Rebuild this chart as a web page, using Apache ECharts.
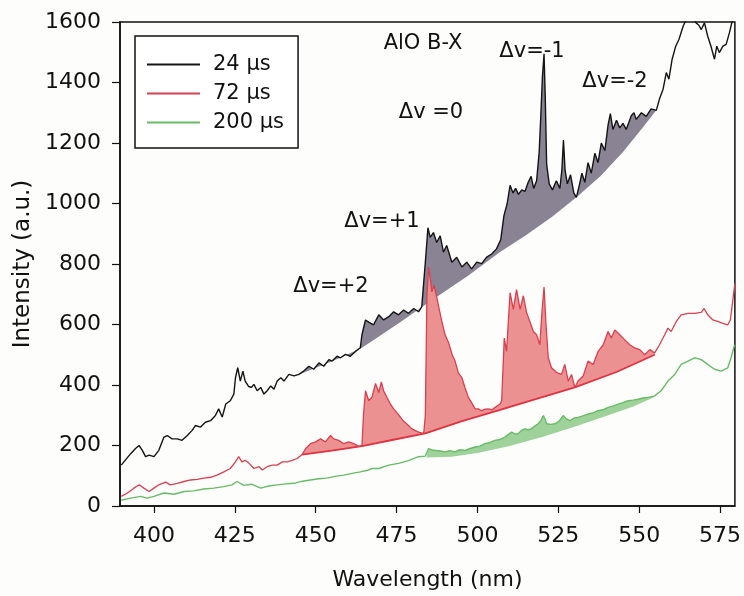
<!DOCTYPE html>
<html>
<head>
<meta charset="utf-8">
<script src="https://cdn.jsdelivr.net/npm/echarts@6/dist/echarts.min.js"></script>
<style>
html, body { margin: 0; padding: 0; background: #fdfdfc; }
#chart { width: 744px; height: 596px; }
</style>
</head>
<body>
<div id="chart"></div>
<script>
// [wavelength nm, intensity a.u.]
var spec24 = [
  [389.9,135],[390.7,146],[392.8,173],[394.3,190],[395.4,200],[396.4,184],[397.4,163],[398.5,168],
  [400,163],[401.5,184],[403.1,228],[404.1,233],[405.6,222],[407.2,222],[408.7,217],[410.3,233],
  [411.8,250],[412.8,266],[414.4,261],[415.9,277],[417.5,282],[419,299],[420,321],[421.1,294],
  [422.2,337],[423.6,348],[424.7,370],[425.2,424],[425.9,457],[426.7,413],[427.5,446],[428.2,413],
  [429.3,395],[430.1,392],[430.9,402],[431.9,381],[433,392],[434,370],[435,381],[436.1,397],
  [437.1,386],[438.1,413],[439.2,424],[440.2,413],[441.7,435],[443.3,430],[444.8,435],[446.3,446],
  [447.9,462],[449.4,452],[451,473],[452.5,462],[454.1,484],[455.1,479],[456.6,495],[457.7,490],
  [459.2,501],[460.7,495],[462.3,511],[463.8,523],[464.3,566],[465.4,615],[466.4,608],[467.9,599],
  [469.5,632],[471,615],[472.6,626],[474.1,642],[475.6,632],[477.2,648],[478.7,637],[480.3,653],
  [481.8,642],[482.8,659],[483.9,806],[484.7,920],[485.4,888],[486.4,904],[487.4,871],[488.5,893],
  [489.5,839],[490.5,861],[492.1,806],[493.6,822],[495.2,790],[496.7,806],[498.2,784],[499.8,806],
  [501.3,801],[502.8,822],[504.4,833],[505.9,850],[507.2,880],[508.2,960],[509.2,1000],[510.1,1060],
  [511,1035],[511.8,1050],[512.7,1030],[513.7,1045],[514.7,1040],[515.7,1070],[516.6,1090],[517.4,1050],
  [518.3,1075],[519.1,1170],[519.6,1290],[520.1,1420],[520.6,1495],[521,1340],[521.4,1130],[522.2,1065],
  [523.2,1045],[524.4,1075],[525.5,1050],[526.1,1110],[526.6,1210],[527.1,1110],[527.8,1065],[528.8,1095],
  [529.8,1035],[530.6,1020],[531.5,1060],[532.3,1100],[533.2,1070],[534.2,1135],[535.2,1100],[536.3,1166],
  [537.3,1135],[538.3,1200],[539.4,1175],[540.4,1260],[541.1,1297],[541.9,1245],[543,1275],[544,1250],
  [545,1265],[546,1245],[547.6,1291],[548.4,1300],[549.1,1278],[550.7,1300],[552.2,1288],[553.7,1313],
  [555.3,1308],[556.3,1346],[557.4,1378],[558.4,1433],[559.2,1411],[560.2,1477],[561.3,1520],[562.3,1542],
  [563.6,1586],[564.6,1610],[565.6,1615],[566.6,1612],[567.6,1597],[568.4,1590],[569.2,1575],[570.2,1597],
  [571.2,1553],[572.2,1520],[573.3,1477],[574,1520],[574.8,1499],[575.9,1520],[576.9,1526],[577.9,1564],
  [578.7,1600],[579.6,1625]
];
var spec72 = [
  [389.9,32],[391.8,43],[393.8,59],[395.4,70],[396.9,59],[398.5,48],[400,59],[401.5,70],
  [403.6,79],[405.1,70],[407.2,75],[409.3,81],[411.3,86],[413.4,88],[415.4,92],[417.5,95],
  [419.5,102],[421.6,113],[423.6,124],[425.2,146],[426.2,163],[427.2,146],[428.2,151],[429.4,141],
  [430.9,124],[432.5,130],[433.5,119],[435,130],[436.6,135],[438.1,135],[439.7,146],[441.2,146],
  [442.7,151],[444.3,157],[445.8,170],[446.9,190],[448.4,206],[450,212],[451.5,222],[453,212],
  [454.6,233],[455.6,222],[457.1,217],[458.7,206],[460.2,212],[461.8,206],[463.3,197],[464.3,200],
  [464.8,304],[465.4,381],[466.4,348],[467.4,360],[468.5,405],[469.5,375],[470.3,410],[471,381],
  [472,359],[473.1,337],[474.1,321],[475.6,302],[477.2,280],[478.7,266],[479.7,255],[480.3,252],
  [481.8,244],[483.4,240],[483.9,300],[484.4,700],[484.9,790],[485.5,745],[485.9,708],[486.6,730],
  [487.4,691],[488.2,650],[489,610],[490,566],[491.1,540],[492.2,500],[493.1,479],[494.1,440],
  [495.2,424],[496.2,390],[497.2,359],[498.3,340],[499.3,321],[500.3,321],[501.3,315],[502.4,320],
  [503.4,321],[504.5,318],[505.5,326],[507,337],[507.5,348],[508.3,555],[509,511],[510.1,705],
  [511.1,650],[512.1,715],[513.2,650],[514.2,695],[515.2,640],[516.2,610],[517.3,577],[518.3,566],
  [519.3,533],[520,648],[520.6,724],[521.2,599],[521.9,490],[522.9,457],[524.5,441],[526,435],
  [527,468],[528.1,413],[529.1,435],[530.1,392],[531.1,413],[532.7,430],[534.2,479],[535.8,468],
  [537.3,511],[538.9,533],[540.4,577],[541.4,555],[542.5,582],[544,566],[545.5,550],[547.1,533],
  [548.6,523],[550.2,517],[551.7,500],[553.3,517],[554.8,506],[556.3,533],[557.9,566],[558.9,588],
  [559.9,577],[561.5,610],[563,632],[565.1,637],[567.1,637],[569.2,640],[570.1,653],[571.2,632],
  [572.8,615],[574.3,610],[575.9,604],[577.4,599],[578.2,615],[578.9,675],[579.6,735]
];
var spec200 = [
  [389.9,19],[392.8,26],[395.9,32],[397.9,26],[400,32],[403.1,43],[406.2,39],[409.3,48],
  [412.3,50],[415.4,56],[418.5,59],[421.6,64],[424.1,70],[425.7,81],[427.8,68],[430.1,72],
  [433,59],[435.5,66],[438.1,70],[440.7,73],[443.3,75],[445.9,82],[448.4,86],[451,90],
  [453.5,92],[456,98],[458.7,102],[461.2,108],[463.8,113],[466,118],[467.4,124],[469.5,124],
  [472.6,135],[475.6,141],[478.7,150],[481.8,163],[483.9,165],[484.9,190],[486,185],[487,184],
  [488.5,182],[490,179],[491.5,183],[493.1,179],[494.6,186],[496.2,184],[497.8,190],[499.3,195],
  [500.8,198],[502.3,206],[503.9,210],[505.4,217],[507,220],[508.5,228],[509.5,236],[510.6,244],
  [511.6,238],[512.6,239],[513.6,250],[514.7,255],[515.7,252],[516.7,255],[517.8,265],[518.8,272],
  [519.6,282],[520.4,299],[521,285],[521.4,272],[522.7,270],[524,272],[525.2,280],[526.5,299],
  [527.5,288],[528.6,282],[529.8,290],[531.1,293],[532.6,298],[534.2,304],[535.7,308],[537.3,315],
  [538.8,318],[540.4,326],[541.9,330],[543.5,337],[545,342],[546.6,348],[548.1,350],[549.7,353],
  [551.2,357],[552.8,359],[554.8,364],[556.8,381],[558.9,413],[561,435],[563,468],[565.1,479],
  [567.1,490],[569.2,484],[571.2,468],[573.3,452],[575.3,446],[577.4,457],[578.4,490],[579.5,533]
];
// continuum baselines under the AlO bands
var base24 = [
  [444.8,435],[452,465],[458,492],[464.3,523],[470,564],[476,607],[484.2,668],[490,710],
  [497,760],[507,840],[515,895],[523,955],[531,1024],[538,1090],[545,1170],[551,1250],[555.3,1308]
];
var base72 = [
  [445.8,170],[455,183],[464.3,198],[474,219],[483.9,240],[495,280],[507,318],[518,353],
  [530.1,392],[543,443],[554.8,500]
];
var base200 = [
  [484.2,160],[492,163],[500,175],[510,198],[520,228],[530,262],[540,298],[548,328],[554.8,360]
];
var xTicks = [400, 425, 450, 475, 500, 525, 550, 575];
var bandNames = ['AlO B-X', 'Δv=-1', 'Δv=-2', 'Δv =0', 'Δv=+1', 'Δv=+2'];
var bandPos = [[423, 44], [532, 52], [615, 82], [431, 113], [382, 222], [331, 287]];

var FONT = '"DejaVu Sans", sans-serif';

function between(pts, a, b) {
  return pts.filter(function (p) { return p[0] >= a && p[0] <= b; });
}

// filled area between a spectrum and its baseline
function band(line, base, color) {
  var top = between(line, base[0][0], base[base.length - 1][0]);
  return {
    type: 'custom',
    coordinateSystem: 'cartesian2d',
    silent: true,
    z: 1,
    data: [top[0]],
    renderItem: function (params, api) {
      var pts = top.map(function (p) { return api.coord(p); })
        .concat(base.slice().reverse().map(function (p) { return api.coord(p); }));
      return { type: 'polygon', shape: { points: pts }, style: { fill: color } };
    }
  };
}

var chart = echarts.init(document.getElementById('chart'));
chart.setOption({
  animation: false,
  backgroundColor: '#fdfdfc',
  grid: {
    left: 120, right: 7, top: 22, bottom: 83,
    show: true, borderColor: '#111', borderWidth: 1.5
  },
  legend: {
    data: ['24 µs', '72 µs', '200 µs'],
    orient: 'vertical',
    left: 135, top: 36,
    padding: [18, 14, 15, 12],
    icon: 'rect',
    itemWidth: 53, itemHeight: 2, itemGap: 8,
    borderColor: '#111', borderWidth: 1.5,
    backgroundColor: '#fff',
    textStyle: { fontFamily: FONT, fontSize: 21, color: '#111', padding: [0, 0, 0, 8] }
  },
  xAxis: {
    type: 'value',
    min: 389.5, max: 579.6,
    name: 'Wavelength (nm)',
    nameLocation: 'middle', nameGap: 63,
    nameTextStyle: { fontFamily: FONT, fontSize: 22, color: '#111' },
    axisLine: { lineStyle: { color: '#111', width: 1.5 } },
    axisTick: { customValues: xTicks, length: 7, lineStyle: { color: '#111', width: 1.2 } },
    axisLabel: { customValues: xTicks, margin: 19, fontFamily: FONT, fontSize: 22, color: '#111' },
    splitLine: { show: false }
  },
  yAxis: {
    type: 'value',
    min: 0, max: 1600, interval: 200,
    name: 'Intensity (a.u.)',
    nameLocation: 'middle', nameGap: 79,
    nameTextStyle: { fontFamily: FONT, fontSize: 23, color: '#111' },
    axisLine: { show: true, lineStyle: { color: '#111', width: 1.5 } },
    axisTick: { show: true, length: 8, lineStyle: { color: '#111', width: 1.2 } },
    axisLabel: {
      margin: 19, fontFamily: FONT, fontSize: 22, color: '#111',
      formatter: function (v) { return String(v); }
    },
    splitLine: { show: false }
  },
  graphic: bandNames.map(function (t, i) {
    return {
      type: 'text', x: bandPos[i][0], y: bandPos[i][1], z: 10,
      style: { text: t, font: '21px ' + FONT, fill: '#111', align: 'center', verticalAlign: 'middle' }
    };
  }),
  series: [
    band(spec24, base24, '#8a8394'),
    band(spec72, base72, '#ec9191'),
    band(spec200, base200, '#9ed29a'),
    {
      name: '72 µs baseline', type: 'line', data: base72, symbol: 'none', silent: true, z: 2,
      lineStyle: { color: '#e0323f', width: 1.8 }
    },
    {
      name: '24 µs', type: 'line', data: spec24, symbol: 'none', z: 3,
      lineStyle: { color: '#141414', width: 1.4 }, itemStyle: { color: '#141414' }
    },
    {
      name: '72 µs', type: 'line', data: spec72, symbol: 'none', z: 3,
      lineStyle: { color: '#d8404f', width: 1.3 }, itemStyle: { color: '#d8404f' }
    },
    {
      name: '200 µs', type: 'line', data: spec200, symbol: 'none', z: 3,
      lineStyle: { color: '#68bb66', width: 1.4 }, itemStyle: { color: '#68bb66' }
    }
  ]
});
</script>
</body>
</html>
